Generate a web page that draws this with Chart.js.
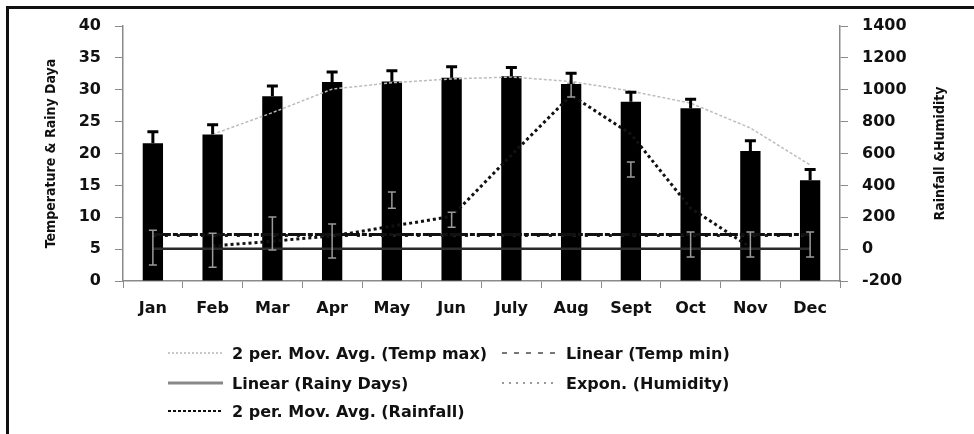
<!DOCTYPE html>
<html>
<head>
<meta charset="utf-8">
<script src="https://cdn.jsdelivr.net/npm/chart.js@4.4.0/dist/chart.umd.min.js"></script>
<style>
    html, body { margin: 0; padding: 0; background: #fff; }
    #wrap { position: relative; width: 974px; height: 434px; overflow: hidden; }
    #chart { position: absolute; left: 0; top: 0; }
    #frame { position: absolute; left: 6px; top: 6px; width: 990px; height: 450px;
             border-top: 3px solid #111; border-left: 3px solid #111; pointer-events: none; }
    .leg { position: absolute; height: 20px; display: flex; align-items: center;
           font: bold 16px "DejaVu Sans"; color: #111; white-space: nowrap; }
    .leg svg { margin-right: 9px; }
</style>
</head>
<body>
<div id="wrap">
    <canvas id="chart" width="974" height="434"></canvas>
    <div id="frame"></div>
    <div id="legend"></div>
</div>
<script>
// months on the x axis
const months = ['Jan', 'Feb', 'Mar', 'Apr', 'May', 'Jun', 'July', 'Aug', 'Sept', 'Oct', 'Nov', 'Dec'];

// bars: max temperature (left axis) and its error
const tempMax    = [21.6, 23.0, 29.0, 31.2, 31.3, 31.9, 32.1, 30.9, 28.1, 27.1, 20.4, 15.8];
const tempMaxErr = [1.8, 1.5, 1.6, 1.6, 1.7, 1.7, 1.4, 1.7, 1.5, 1.4, 1.6, 1.7];

// thin grey error bars of rainfall (right axis)
const rainLo = [-100, -113, -6, -56, 257, 138, null, 954, 452, -50, -50, -50];
const rainHi = [119, 100, 201, 157, 358, 232, null, 1041, 546, 107, 107, 107];

// trend lines
const movAvgTempMax = [null, 23.0, 26.4, 30.1, 31.1, 31.7, 32.0, 31.3, 29.8, 27.9, 24.0, 18.2];
const linTempMin    = [7.3, 7.3, 7.3, 7.3, 7.3, 7.3, 7.3, 7.3, 7.3, 7.3, 7.3, 7.3];
const linRainyDays  = [5.05, 5.05, 5.05, 5.05, 5.05, 5.05, 5.05, 5.05, 5.05, 5.05, 5.05, 5.05];
const exponHumidity = [86, 86, 86, 86, 86, 86, 86, 86, 86, 86, 86, 86];
const movAvgRain    = [null, 19, 50, 82, 144, 205, 590, 966, 722, 257, 12, null];

// axis ticks
const leftTicks  = { min: 0, max: 40, step: 5 };
const rightTicks = { min: -200, max: 1400, step: 200 };

// legend entries: [label, column, row, stroke, width, dash]
const legendItems = [
    ['2 per. Mov. Avg. (Temp max)', 0, 0, '#c8c8c8', 2, '2 2'],
    ['Linear (Temp min)', 1, 0, '#777', 2, '5 7'],
    ['Linear (Rainy Days)', 0, 1, '#888', 3, ''],
    ['Expon. (Humidity)', 1, 1, '#999', 2, '2 5'],
    ['2 per. Mov. Avg. (Rainfall)', 0, 2, '#111', 2, '3 2']
];

const AXIS_GREY = '#8a8a8a';
const TITLE_FAMILY = '"DejaVu Sans Condensed", "Liberation Sans", sans-serif';
const tickFont = { family: 'DejaVu Sans', size: 16, weight: 'bold' };

// error bars drawn with the library's scales
const errorBars = {
    id: 'errorBars',
    afterDatasetsDraw(chart) {
        const { ctx, scales } = chart;
        const x = scales.x, y = scales.y, y1 = scales.y1;
        ctx.save();
        ctx.strokeStyle = '#9a9a9a';
        ctx.lineWidth = 1.5;
        rainLo.forEach((lo, i) => {
            if (lo === null) return;
            const px = x.getPixelForValue(i);
            const a = y1.getPixelForValue(lo);
            const b = y1.getPixelForValue(rainHi[i]);
            ctx.beginPath();
            ctx.moveTo(px, a); ctx.lineTo(px, b);
            ctx.moveTo(px - 4, a); ctx.lineTo(px + 4, a);
            ctx.moveTo(px - 4, b); ctx.lineTo(px + 4, b);
            ctx.stroke();
        });
        ctx.strokeStyle = '#000';
        ctx.lineWidth = 3;
        tempMax.forEach((v, i) => {
            const px = x.getPixelForValue(i);
            const base = y.getPixelForValue(v);
            const top = y.getPixelForValue(v + tempMaxErr[i]);
            ctx.beginPath();
            ctx.moveTo(px, base); ctx.lineTo(px, top);
            ctx.moveTo(px - 5.5, top); ctx.lineTo(px + 5.5, top);
            ctx.stroke();
        });
        ctx.restore();
    }
};

// right axis title reads bottom to top like the left one
const rightTitle = {
    id: 'rightTitle',
    afterDraw(chart) {
        const { ctx, chartArea } = chart;
        ctx.save();
        ctx.translate(chart.width - 34, (chartArea.top + chartArea.bottom) / 2);
        ctx.rotate(-Math.PI / 2);
        ctx.font = 'bold 14px ' + TITLE_FAMILY;
        ctx.fillStyle = '#111';
        ctx.textAlign = 'center';
        ctx.textBaseline = 'middle';
        ctx.fillText('Rainfall &Humidity', 0, 0);
        ctx.restore();
    }
};

function lineSet(label, data, axis, color, width, dash) {
    return {
        type: 'line', label, data, yAxisID: axis,
        borderColor: color, borderWidth: width, borderDash: dash,
        pointRadius: 0, fill: false, tension: 0, order: 1
    };
}

new Chart(document.getElementById('chart'), {
    data: {
        labels: months,
        datasets: [
            {
                type: 'bar', label: 'Temp max', data: tempMax, yAxisID: 'y',
                backgroundColor: '#000', borderWidth: 0,
                barPercentage: 0.34, categoryPercentage: 1, order: 5
            },
            lineSet('2 per. Mov. Avg. (Temp max)', movAvgTempMax, 'y', '#bdbdbd', 1.5, [3, 2]),
            lineSet('Linear (Temp min)', linTempMin, 'y', '#111', 3, [18, 2, 5, 2]),
            lineSet('Expon. (Humidity)', exponHumidity, 'y1', '#222', 3, [3, 9]),
            lineSet('Linear (Rainy Days)', linRainyDays, 'y', '#2a2a2a', 2.5, []),
            lineSet('2 per. Mov. Avg. (Rainfall)', movAvgRain, 'y1', '#111', 3, [3, 3])
        ]
    },
    options: {
        responsive: false,
        animation: false,
        devicePixelRatio: 1,
        layout: { padding: { top: 26, left: 0, right: 0, bottom: 0 } },
        plugins: { legend: { display: false }, tooltip: { enabled: false } },
        scales: {
            x: {
                offset: true,
                grid: { drawOnChartArea: false, drawTicks: true, tickLength: 7, color: AXIS_GREY, offset: true },
                border: { color: AXIS_GREY, width: 1.5 },
                ticks: { font: tickFont, color: '#111', padding: 11, maxRotation: 0, autoSkip: false },
                afterFit(scale) { scale.height = 153; }
            },
            y: {
                position: 'left',
                min: leftTicks.min, max: leftTicks.max,
                grid: { drawOnChartArea: false, tickLength: 8, color: AXIS_GREY },
                border: { color: AXIS_GREY, width: 1.5 },
                ticks: { stepSize: leftTicks.step, font: tickFont, color: '#111', padding: 14 },
                title: {
                    display: true, text: 'Temperature & Rainy Daya', color: '#111',
                    font: { family: TITLE_FAMILY, size: 14, weight: 'bold' },
                    padding: { top: 43, bottom: 0 }
                },
                afterFit(scale) { scale.width = 123; }
            },
            y1: {
                position: 'right',
                min: rightTicks.min, max: rightTicks.max,
                grid: { drawOnChartArea: false, tickLength: 8, color: AXIS_GREY },
                border: { color: AXIS_GREY, width: 1.5 },
                ticks: {
                    stepSize: rightTicks.step, font: tickFont, color: '#111', padding: 14,
                    callback: (v) => String(v)
                },
                afterFit(scale) { scale.width = 134; }
            }
        }
    },
    plugins: [errorBars, rightTitle]
});

// legend below the chart
const legend = document.getElementById('legend');
const colX = [168, 502];
const rowY = [353, 383, 411];
legendItems.forEach(([label, col, row, stroke, width, dash]) => {
    const item = document.createElement('div');
    item.className = 'leg';
    item.style.left = colX[col] + 'px';
    item.style.top = (rowY[row] - 10) + 'px';
    item.innerHTML = `<svg width="55" height="6"><line x1="0" y1="3" x2="55" y2="3" stroke="${stroke}"
        stroke-width="${width}" stroke-dasharray="${dash}"/></svg><span>${label}</span>`;
    legend.appendChild(item);
});
</script>
</body>
</html>
